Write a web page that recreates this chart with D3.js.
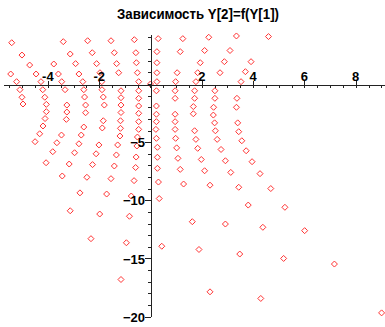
<!DOCTYPE html>
<html>
<head>
<meta charset="utf-8">
<script src="https://cdn.jsdelivr.net/npm/d3@7"></script>
<style>
  body { margin: 0; background: #fff; }
  svg { display: block; }
</style>
</head>
<body>
<svg id="chart" width="385" height="327"></svg>
<script>
const title = 'Зависимость Y[2]=f(Y[1])'

const xTickLabels = [-4, -2, 2, 4, 6, 8]
const yTickLabels = [-5, -10, -15, -20]
const xMinorTicks = d3.range(-5.5, 9.01, 0.5)
const yMinorTicks = d3.range(-20, 4.01, 1)

// [Y1, Y2] pairs, left of the Y[2] axis
const pointsLeft = [
  [-5.41, 3.55], [-3.40, 3.64], [-2.45, 3.72], [-1.54, 3.72], [-0.63, 3.81],
  [-5.01, 2.49], [-3.13, 2.58], [-2.27, 2.69], [-1.41, 2.69], [-0.57, 2.69],
  [-4.71, 1.63], [-3.77, 1.72], [-2.92, 1.75], [-2.10, 1.75], [-1.32, 1.75], [-0.55, 1.83],
  [-5.45, 0.86], [-4.46, 0.86], [-3.59, 0.86], [-2.79, 0.86], [-1.97, 0.97], [-1.24, 0.97], [-0.51, 0.97],
  [-5.22, 0.20], [-4.27, 0.20], [-3.46, 0.20], [-2.64, 0.20], [-1.90, 0.20], [-0.46, 0.20],
  [-5.09, -0.49], [-4.20, -0.49], [-3.33, -0.49], [-2.60, -0.49], [-1.89, -0.49], [-1.15, -0.58], [-0.46, -0.58],
  [-5.01, -1.14], [-4.12, -1.14], [-2.57, -1.12], [-1.84, -1.12], [-1.15, -1.18], [-0.46, -1.23],
  [-4.97, -1.72], [-4.06, -1.75], [-3.26, -1.81], [-2.53, -1.81], [-1.80, -1.81], [-1.15, -1.81], [-0.46, -1.89],
  [-4.06, -2.38], [-3.26, -2.41], [-2.53, -2.47], [-1.15, -2.45], [-0.46, -2.52],
  [-4.11, -2.97], [-3.28, -3.04], [-1.84, -3.16], [-1.17, -3.16], [-0.46, -3.24],
  [-4.19, -3.61], [-2.60, -3.70], [-1.88, -3.78], [-1.17, -3.81], [-0.46, -3.90],
  [-4.32, -4.28], [-3.47, -4.39], [-2.70, -4.39], [-1.19, -4.47], [-0.51, -4.56],
  [-4.50, -4.96], [-3.65, -5.05], [-2.79, -5.14], [-2.01, -5.24], [-1.28, -5.24], [-0.53, -5.33],
  [-3.81, -5.82], [-2.96, -5.91], [-2.12, -6.00], [-1.33, -6.10], [-0.56, -6.28],
  [-4.07, -6.77], [-3.17, -6.88], [-2.26, -6.93], [-1.41, -7.05], [-0.58, -7.18],
  [-3.44, -7.91], [-2.48, -8.02], [-1.54, -8.14], [-0.64, -8.31],
  [-2.75, -9.36], [-1.71, -9.46], [-0.75, -9.63],
  [-3.13, -10.90], [-1.98, -11.18], [-0.82, -11.37],
  [-2.32, -13.30], [-0.94, -13.65],
  [-1.15, -16.81]
]

// [Y1, Y2] pairs right of the Y[2] axis
const pointsRight = [
  [0, 0],
  [0.30, 3.90], [1.26, 3.90], [2.27, 4.02], [3.35, 4.13], [4.60, 4.08],
  [0.25, 2.78], [1.16, 2.78], [2.11, 2.88], [3.10, 2.88],
  [0.25, 1.83], [1.94, 1.83], [2.88, 1.92], [3.92, 1.92],
  [0.25, 0.97], [1.04, 0.97], [1.84, 0.97], [2.71, 0.97], [3.70, 1.06],
  [0.25, 0.20], [0.98, 0.20], [1.77, 0.20], [3.53, 0.20],
  [0.23, -0.58], [0.96, -0.58], [1.72, -0.58], [2.51, -0.58],
  [0.96, -1.23], [1.72, -1.23], [2.51, -1.23], [3.37, -1.23],
  [0.23, -1.89], [1.67, -1.94], [2.46, -2.00], [3.35, -2.00],
  [0.23, -2.60], [0.96, -2.60], [1.67, -2.56], [2.45, -2.67],
  [0.23, -3.24], [0.96, -3.24], [2.50, -3.34], [3.40, -3.34],
  [0.21, -3.90], [0.96, -3.90], [1.72, -4.02], [2.53, -4.02], [3.44, -4.10],
  [0.23, -4.67], [0.98, -4.67], [1.77, -4.76], [2.60, -4.76], [3.56, -4.88],
  [0.27, -5.44], [1.02, -5.49], [1.84, -5.53], [2.75, -5.63], [3.73, -5.74],
  [0.27, -6.30], [1.07, -6.39], [1.98, -6.49], [2.92, -6.60], [3.96, -6.68],
  [0.27, -7.25], [1.16, -7.34], [2.11, -7.46], [3.13, -7.60], [4.27, -7.71],
  [0.31, -8.43], [1.29, -8.60], [2.32, -8.70], [3.44, -8.88], [4.69, -8.99],
  [0.34, -9.85], [3.81, -10.41], [5.24, -10.60],
  [1.63, -11.84], [2.92, -12.04], [4.38, -12.32], [6.01, -12.61],
  [0.44, -13.95], [1.89, -14.23], [3.48, -14.62], [5.19, -15.00], [7.17, -15.48],
  [2.32, -17.87], [4.30, -18.44], [9.01, -19.68]
]

const svg = d3.select('svg#chart')

const x = d3.scaleLinear().domain([-5.75, 9.15]).range([3, 385.2])
const y = d3.scaleLinear().domain([-20, 4.3]).range([316.6, 34])

const axisColor = '#222'
const labelFont = '"Liberation Sans", Arial, sans-serif'

svg.append('text')
  .attr('x', 198)
  .attr('y', 19)
  .attr('text-anchor', 'middle')
  .attr('font-family', labelFont)
  .attr('font-weight', 'bold')
  .attr('font-size', 15)
  .attr('textLength', 162)
  .attr('lengthAdjust', 'spacingAndGlyphs')
  .attr('fill', '#000')
  .text(title)

// points first, axes and labels drawn over them
const diamond = 'M0,-3L3,0L0,3L-3,0Z'
svg.append('g')
  .selectAll('path')
  .data(pointsLeft.concat(pointsRight))
  .join('path')
  .attr('d', diamond)
  .attr('transform', d => `translate(${x(d[0])},${y(d[1])})`)
  .attr('fill', 'none')
  .attr('stroke', '#f33')
  .attr('stroke-width', 1)

const y0 = Math.round(y(0)) + 0.5
const x0 = Math.round(x(0)) + 0.5

// horizontal axis: minor ticks below, major ticks above
svg.append('g')
  .attr('transform', `translate(0,${y0})`)
  .call(d3.axisBottom(x).tickValues(xMinorTicks).tickSize(3).tickFormat('').tickSizeOuter(0))
const xMajorAxis = svg.append('g')
  .attr('transform', `translate(0,${y0})`)
  .call(d3.axisTop(x).tickValues(xTickLabels).tickSize(4).tickFormat('').tickSizeOuter(0))
xMajorAxis.select('.domain').remove()

// vertical axis
svg.append('g')
  .attr('transform', `translate(${x0},0)`)
  .call(d3.axisLeft(y).tickValues(yMinorTicks).tickSize(2.5).tickFormat('').tickSizeOuter(0))
const yMajorAxis = svg.append('g')
  .attr('transform', `translate(${x0},0)`)
  .call(d3.axisLeft(y).tickValues(yTickLabels).tickSize(5.5).tickPadding(0)
    .tickFormat(d3.format('d')).tickSizeOuter(0))
yMajorAxis.select('.domain').remove()

svg.selectAll('.domain, .tick line')
  .attr('stroke', axisColor)
  .attr('shape-rendering', 'crispEdges')

yMajorAxis.selectAll('text')
  .attr('font-family', labelFont)
  .attr('font-weight', 'bold')
  .attr('font-size', 13)
  .attr('fill', '#000')
  .attr('dy', '0.36em')

// x labels sit just above the axis line
svg.append('g')
  .selectAll('text')
  .data(xTickLabels)
  .join('text')
  .attr('x', d => x(d))
  .attr('y', 81)
  .attr('text-anchor', 'middle')
  .attr('font-family', labelFont)
  .attr('font-weight', 'bold')
  .attr('font-size', 13)
  .attr('fill', '#000')
  .text(d => d)
</script>
</body>
</html>
